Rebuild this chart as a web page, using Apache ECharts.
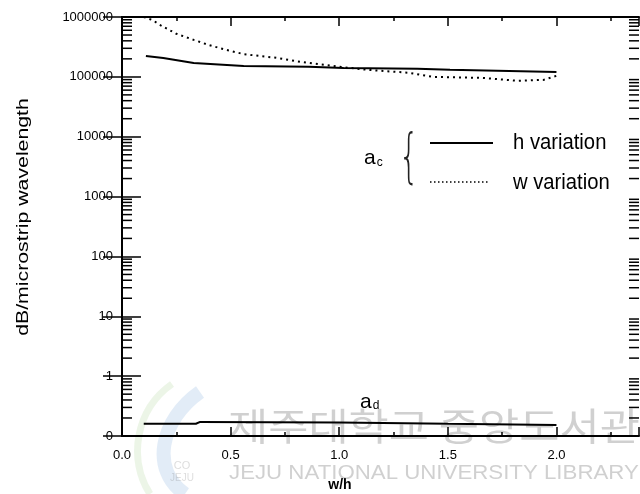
<!DOCTYPE html>
<html>
<head>
<meta charset="utf-8">
<script src="https://cdn.jsdelivr.net/npm/echarts@6/dist/echarts.min.js"></script>
<style>
  html, body { margin: 0; padding: 0; background: #fff; }
  #chart { width: 640px; height: 494px; }
</style>
</head>
<body>
<div id="chart"></div>
<script>
// Conductor loss (a_c) for h and w variation, dielectric loss (a_d), vs. w/h
const hVarX = [0.11, 0.19, 0.33, 0.56, 0.86, 1.02, 1.36, 1.51, 2.0];
const hVarLoss = [224000, 207000, 171000, 152000, 147000, 141000, 136000, 131000, 121000];

const wVarX = [0.1, 0.14, 0.18, 0.25, 0.33, 0.4, 0.48, 0.56, 0.63, 0.71, 0.82, 0.97, 1.13, 1.32, 1.43, 1.66, 1.82, 1.94, 2.0];
const wVarLoss = [1000000, 890000, 720000, 525000, 415000, 340000, 282000, 240000, 224000, 208000, 178000, 152000, 131000, 117000, 100000, 96000, 86000, 89000, 104000];

const dielX = [0.1, 0.34, 0.36, 1.0, 1.5, 2.0];
const dielLoss = [0.16, 0.16, 0.172, 0.168, 0.16, 0.153];

const xTickLabels = ['0.0', '0.5', '1.0', '1.5', '2.0'];
const X_MIN = 0, X_MAX = 2.38;
const Y_MIN = 0.1, Y_MAX = 1000000;

// log minor tick values 2..9 x 10^k inside each decade
const minorVals = [];
for (let k = -1; k <= 5; k++) {
  for (let m = 2; m <= 9; m++) minorVals.push([0, m * Math.pow(10, k)]);
}

const pairs = (xs, ys) => xs.map((x, i) => [x, ys[i]]);
const FONT = '"Liberation Sans", Arial, sans-serif';

const chart = echarts.init(document.getElementById('chart'), null, { renderer: 'canvas' });

const xCommon = {
  type: 'value', min: X_MIN, max: X_MAX, interval: 0.5,
  axisLine: { lineStyle: { color: '#000', width: 2 } },
  axisTick: { inside: true, length: 9, lineStyle: { color: '#000', width: 1.5 } },
  minorTick: { show: true, splitNumber: 2, length: 4, lineStyle: { color: '#000', width: 1.5 } },
  splitLine: { show: false }
};
const yCommon = {
  type: 'log', logBase: 10, min: Y_MIN, max: Y_MAX, interval: 1,
  axisLine: { lineStyle: { color: '#000', width: 2 } },
  axisTick: { inside: true, length: 19, lineStyle: { color: '#000', width: 1.5 } },
  splitLine: { show: false }
};

chart.setOption({
  animation: false,
  backgroundColor: '#fff',
  grid: { left: 122, right: 1, top: 17, bottom: 58, containLabel: false },
  xAxis: [
    Object.assign({}, xCommon, {
      position: 'bottom',
      axisLabel: {
        margin: 13, color: '#000', fontFamily: FONT, fontSize: 13, showMaxLabel: false,
        formatter: v => {
          const i = Math.round(v / 0.5);
          return Math.abs(v - i * 0.5) < 1e-6 && i < xTickLabels.length ? xTickLabels[i] : '';
        }
      }
    }),
    Object.assign({}, xCommon, { position: 'top', axisLabel: { show: false } })
  ],
  yAxis: [
    Object.assign({}, yCommon, {
      position: 'left',
      axisLabel: {
        margin: 9, color: '#000', fontFamily: FONT, fontSize: 13,
        formatter: v => (v < 1 ? '0' : String(Math.round(v)))
      }
    }),
    Object.assign({}, yCommon, { position: 'right', axisLabel: { show: false } })
  ],
  series: [
    {
      name: 'h variation', type: 'line', data: pairs(hVarX, hVarLoss),
      symbol: 'none', lineStyle: { color: '#000', width: 2 }, z: 5
    },
    {
      name: 'w variation', type: 'line', data: pairs(wVarX, wVarLoss),
      symbol: 'none', lineStyle: { color: '#000', width: 2, type: [2, 4] }, z: 5
    },
    {
      name: 'a_d', type: 'line', data: pairs(dielX, dielLoss),
      symbol: 'none', lineStyle: { color: '#000', width: 2 }, z: 5
    },
    {
      // minor log ticks on both vertical axes
      type: 'custom', silent: true, clip: false, data: minorVals,
      renderItem: (params, api) => {
        const v = api.value(1);
        const pl = api.coord([X_MIN, v]);
        const pr = api.coord([X_MAX, v]);
        const style = { stroke: '#000', lineWidth: 1.5 };
        return {
          type: 'group',
          children: [
            { type: 'line', shape: { x1: pl[0], y1: pl[1], x2: pl[0] + 10, y2: pl[1] }, style },
            { type: 'line', shape: { x1: pr[0], y1: pr[1], x2: pr[0] - 10, y2: pr[1] }, style }
          ]
        };
      }
    }
  ],
  graphic: [
    // axis titles
    {
      type: 'text', x: 24, y: 217, rotation: Math.PI / 2, scaleX: 1.33,
      style: { text: 'dB/microstrip wavelength', font: '16px ' + FONT, fill: '#000', align: 'center', verticalAlign: 'middle' }
    },
    {
      type: 'text', x: 340, y: 485,
      style: { text: 'w/h', font: 'bold 14px ' + FONT, fill: '#000', align: 'center', verticalAlign: 'middle' }
    },
    // legend for a_c
    {
      type: 'text', x: 364, y: 158,
      style: {
        text: '{a|a}{s|c}', fill: '#000', verticalAlign: 'middle',
        rich: { a: { fontSize: 21, fontFamily: FONT }, s: { fontSize: 12, fontFamily: FONT, padding: [10, 0, 0, 1] } }
      }
    },
    {
      type: 'text', x: 409, y: 161, scaleX: 0.55,
      style: { text: '{', font: '300 58px "DejaVu Sans", sans-serif', fill: '#222', align: 'center', verticalAlign: 'middle' }
    },
    { type: 'line', shape: { x1: 430, y1: 143, x2: 493, y2: 143 }, style: { stroke: '#000', lineWidth: 2 } },
    { type: 'line', shape: { x1: 430, y1: 182, x2: 490, y2: 182 }, style: { stroke: '#000', lineWidth: 1.5, lineDash: [1.5, 2.5] } },
    {
      type: 'text', x: 513, y: 143, scaleX: 0.92,
      style: { text: 'h variation', font: '22px ' + FONT, fill: '#000', verticalAlign: 'middle' }
    },
    {
      type: 'text', x: 513, y: 183, scaleX: 0.92,
      style: { text: 'w variation', font: '22px ' + FONT, fill: '#000', verticalAlign: 'middle' }
    },
    // a_d label
    {
      type: 'text', x: 360, y: 402,
      style: {
        text: '{a|a}{s|d}', fill: '#000', verticalAlign: 'middle',
        rich: { a: { fontSize: 21, fontFamily: FONT }, s: { fontSize: 12, fontFamily: FONT, padding: [8, 0, 0, 1] } }
      }
    },
    // library stamp
    {
      type: 'group', z: 100, silent: true,
      children: [
        { type: 'bezierCurve', shape: { x1: 172, y1: 384, cpx1: 135, cpy1: 410, x2: 150, y2: 494, cpx2: 128, cpy2: 460 },
          style: { stroke: 'rgba(150,200,120,0.18)', lineWidth: 7, fill: null } },
        { type: 'bezierCurve', shape: { x1: 200, y1: 392, cpx1: 160, cpy1: 420, x2: 185, y2: 494, cpx2: 150, cpy2: 470 },
          style: { stroke: 'rgba(110,160,215,0.2)', lineWidth: 14, fill: null } },
        { type: 'text', x: 182, y: 460,
          style: { text: 'CO', font: '11px ' + FONT, fill: 'rgba(120,120,120,0.25)', align: 'center' } },
        { type: 'text', x: 182, y: 473,
          style: { text: 'JEJU', font: '10px ' + FONT, fill: 'rgba(120,120,120,0.25)', align: 'center' } },
        { type: 'text', x: 228, y: 426, scaleX: 1.15,
          style: { text: '제주대학교 중앙도서관', font: '38px "Noto Sans CJK KR", sans-serif', fill: 'rgba(100,100,100,0.3)', verticalAlign: 'middle' } },
        { type: 'text', x: 229, y: 473, scaleX: 1.06,
          style: { text: 'JEJU NATIONAL UNIVERSITY LIBRARY', font: '21px ' + FONT, fill: 'rgba(100,100,100,0.3)', verticalAlign: 'middle' } }
      ]
    }
  ]
});
</script>
</body>
</html>
